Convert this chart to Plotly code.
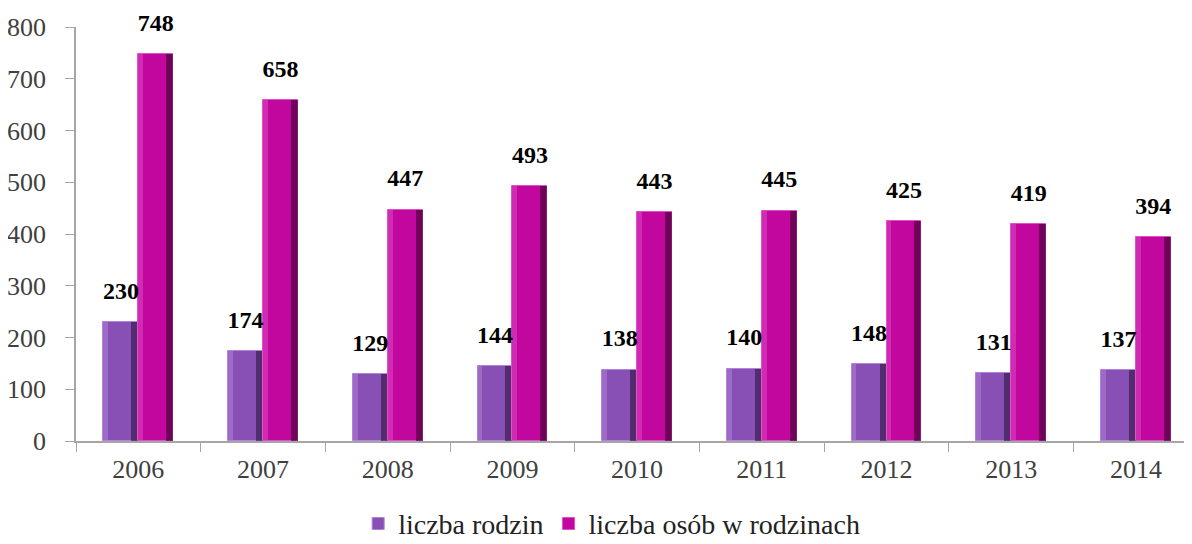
import plotly.graph_objects as go

years = ["2006", "2007", "2008", "2009", "2010", "2011", "2012", "2013", "2014"]
rodziny = [230, 174, 129, 144, 138, 140, 148, 131, 137]
osoby = [748, 658, 447, 493, 443, 445, 425, 419, 394]

W = 0.28
fig = go.Figure()

def add_series(vals, name, color, light, dark, off):
    fig.add_trace(go.Bar(x=years, y=vals, name=name, width=W, offset=off,
                         marker=dict(color=color, line=dict(color=light, width=1))))
    # bevel: light left strip and dark right strip
    fig.add_trace(go.Bar(x=years, y=vals, width=W * 0.14, offset=off,
                         marker=dict(color=light, line=dict(width=0), opacity=0.5),
                         showlegend=False, hoverinfo="skip"))
    fig.add_trace(go.Bar(x=years, y=vals, width=W * 0.2, offset=off + W * 0.8,
                         marker=dict(color=dark, line=dict(width=0), opacity=0.6),
                         showlegend=False, hoverinfo="skip"))
    # value labels, placed over the bar centre on a hidden numeric twin axis
    idx = list(range(len(years)))
    fig.add_trace(go.Scatter(x=[i + off + W / 2 for i in idx], y=vals, xaxis="x2",
                             mode="markers+text", text=[str(v) for v in vals],
                             textposition="top center",
                             texttemplate="<b>%{text}</b>",
                             textfont=dict(family="Liberation Serif", size=24, color="#000000"),
                             marker=dict(size=26, opacity=0),
                             showlegend=False, hoverinfo="skip", cliponaxis=False))

add_series(rodziny, "liczba rodzin", "#8850b4", "#b383dc", "#2e1640", -W)
add_series(osoby, "liczba osób w rodzinach", "#c2079f", "#e050c8", "#3a0030", 0)

fig.update_layout(
    width=1184, height=536,
    barmode="overlay",
    margin=dict(l=68, r=0, t=19, b=103, autoexpand=False),
    plot_bgcolor="white", paper_bgcolor="white",
    font=dict(family="Liberation Serif", size=24, color="#333333"),
    showlegend=True,
    legend=dict(orientation="h", x=0.48, xanchor="center", y=-0.2, yanchor="middle",
                font=dict(family="Liberation Serif", size=28, color="#222222"),
                itemwidth=30, traceorder="normal"),
    bargap=0,
    xaxis2=dict(overlaying="x", range=[-0.5, 8.45], visible=False, showgrid=False),
)
fig.update_layout(xaxis=dict(type="category", range=[-0.5, 8.45], showline=True, linecolor="#a6a6a6",
                 linewidth=1.5, ticks="outside", tickson="boundaries", ticklen=9,
                 tickcolor="#a6a6a6", showgrid=False, automargin=False,
                 ticklabelstandoff=4,
                 tickfont=dict(family="Liberation Serif", size=26, color="#404040")))
fig.update_yaxes(range=[0, 800], dtick=100, showline=True, linecolor="#a6a6a6",
                 linewidth=1.5, ticks="outside", ticklen=9, tickcolor="#a6a6a6",
                 showgrid=False, zeroline=False, automargin=False,
                 ticklabelstandoff=14,
                 tickfont=dict(family="Liberation Serif", size=26, color="#404040"))

fig.write_html("out.html")
